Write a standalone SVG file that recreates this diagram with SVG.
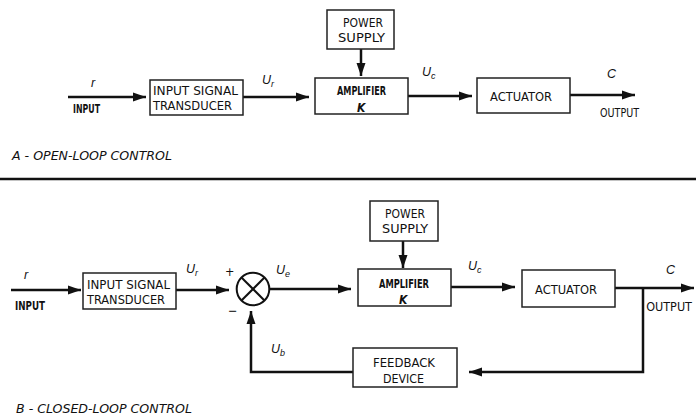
<svg xmlns="http://www.w3.org/2000/svg" width="696" height="417" viewBox="0 0 696 417">
<style>
.box{fill:#fff;stroke:#222;stroke-width:1.5}
.ln{fill:none;stroke:#111;stroke-width:2.5}
.t{font-family:"Liberation Sans Narrow","DejaVu Sans Condensed","Liberation Sans",sans-serif;font-size:12.5px;fill:#111}
.s{font-size:12px}
.it{font-family:"Liberation Sans","DejaVu Sans",sans-serif;font-style:italic;font-size:12.5px;fill:#111}
.cap{font-family:"Liberation Sans Narrow","DejaVu Sans Condensed","Liberation Sans",sans-serif;font-style:italic;font-size:12px;fill:#111}
</style>
<defs>
<marker id="ah" markerUnits="userSpaceOnUse" markerWidth="14" markerHeight="10" refX="13" refY="5" orient="auto">
<path d="M0,0.5 L13,5 L0,9.5 Z" fill="#111"/>
</marker>
</defs>
<rect width="696" height="417" fill="#fff"/>

<!-- Open loop -->
<g id="connectors-a">
<line class="ln" x1="68" y1="97" x2="146" y2="97" marker-end="url(#ah)"/>
<line class="ln" x1="243" y1="97" x2="309" y2="97" marker-end="url(#ah)"/>
<line class="ln" x1="361" y1="49" x2="361" y2="76" marker-end="url(#ah)"/>
<line class="ln" x1="408" y1="96" x2="472" y2="96" marker-end="url(#ah)"/>
<line class="ln" x1="570" y1="95" x2="635" y2="95" marker-end="url(#ah)"/>
</g>
<g id="a-ist">
<rect class="box" x="150" y="80" width="93" height="35"/>
<text class="t" x="153" y="95" textLength="85" lengthAdjust="spacingAndGlyphs">INPUT SIGNAL</text>
<text class="t" x="153" y="110" textLength="79" lengthAdjust="spacingAndGlyphs">TRANSDUCER</text>
</g>
<g id="a-power">
<rect class="box" x="327" y="10" width="67" height="39"/>
<text class="t" x="343" y="27" textLength="40" lengthAdjust="spacingAndGlyphs">POWER</text>
<text class="t" x="338" y="42" textLength="47" lengthAdjust="spacingAndGlyphs">SUPPLY</text>
</g>
<g id="a-amp">
<rect class="box" x="315" y="78" width="93" height="36"/>
<text class="t s" x="337" y="95" textLength="49" lengthAdjust="spacingAndGlyphs" font-weight="bold">AMPLIFIER</text>
<text class="t s" x="357" y="112" font-style="italic" font-weight="bold">K</text>
</g>
<g id="a-act">
<rect class="box" x="477" y="78" width="93" height="35"/>
<text class="t" x="490" y="101" textLength="62" lengthAdjust="spacingAndGlyphs">ACTUATOR</text>
</g>
<g id="a-labels">
<text class="it" x="91" y="87">r</text>
<text class="t s" x="73" y="113" textLength="27" lengthAdjust="spacingAndGlyphs" font-weight="bold">INPUT</text>
<text class="it" x="262" y="84">U<tspan font-size="9" dy="3">r</tspan></text>
<text class="it" x="422" y="76">U<tspan font-size="9" dy="3">c</tspan></text>
<text class="it" x="607" y="78" font-family="Liberation Serif">C</text>
<text class="t s" x="600" y="117" textLength="39" lengthAdjust="spacingAndGlyphs">OUTPUT</text>
<text class="cap" x="12" y="160" textLength="160" lengthAdjust="spacingAndGlyphs">A - OPEN-LOOP CONTROL</text>
</g>

<line x1="0" y1="179" x2="696" y2="179" stroke="#111" stroke-width="2.5"/>

<!-- Closed loop -->
<g id="connectors-b">
<line class="ln" x1="11" y1="290" x2="81" y2="290" marker-end="url(#ah)"/>
<line class="ln" x1="176" y1="290" x2="229" y2="290" marker-end="url(#ah)"/>
<line class="ln" x1="269" y1="289" x2="351" y2="289" marker-end="url(#ah)"/>
<line class="ln" x1="403" y1="241" x2="403" y2="268" marker-end="url(#ah)"/>
<line class="ln" x1="451" y1="287" x2="515" y2="287" marker-end="url(#ah)"/>
<line class="ln" x1="615" y1="288" x2="694" y2="288" marker-end="url(#ah)"/>
<polyline class="ln" points="643,288 643,372 469,372" marker-end="url(#ah)"/>
<polyline class="ln" points="353,372 251,372 251,311" marker-end="url(#ah)"/>
</g>
<g id="b-sum">
<circle cx="253" cy="289" r="16.3" fill="#fff" stroke="#111" stroke-width="2"/>
<line x1="241.5" y1="277.5" x2="264.5" y2="300.5" stroke="#111" stroke-width="2"/>
<line x1="264.5" y1="277.5" x2="241.5" y2="300.5" stroke="#111" stroke-width="2"/>
</g>
<g id="b-ist">
<rect class="box" x="83" y="273" width="93" height="36"/>
<text class="t" x="87" y="289" textLength="83" lengthAdjust="spacingAndGlyphs">INPUT SIGNAL</text>
<text class="t" x="87" y="304" textLength="78" lengthAdjust="spacingAndGlyphs">TRANSDUCER</text>
</g>
<g id="b-power">
<rect class="box" x="370" y="201" width="68" height="40"/>
<text class="t" x="385" y="218" textLength="40" lengthAdjust="spacingAndGlyphs">POWER</text>
<text class="t" x="382" y="233" textLength="46" lengthAdjust="spacingAndGlyphs">SUPPLY</text>
</g>
<g id="b-amp">
<rect class="box" x="358" y="269" width="93" height="37"/>
<text class="t s" x="379" y="288" textLength="50" lengthAdjust="spacingAndGlyphs" font-weight="bold">AMPLIFIER</text>
<text class="t s" x="399" y="304" font-style="italic" font-weight="bold">K</text>
</g>
<g id="b-act">
<rect class="box" x="522" y="270" width="93" height="37"/>
<text class="t" x="535" y="294" textLength="62" lengthAdjust="spacingAndGlyphs">ACTUATOR</text>
</g>
<g id="b-feedback">
<rect class="box" x="353" y="348" width="104" height="39"/>
<text class="t" x="373" y="367" textLength="62" lengthAdjust="spacingAndGlyphs">FEEDBACK</text>
<text class="t" x="383" y="383" textLength="41" lengthAdjust="spacingAndGlyphs">DEVICE</text>
</g>
<g id="b-labels">
<text class="it" x="24" y="279">r</text>
<text class="t s" x="15" y="310" textLength="30" lengthAdjust="spacingAndGlyphs" font-weight="bold">INPUT</text>
<text class="it" x="186" y="273">U<tspan font-size="9" dy="3">r</tspan></text>
<text class="t" x="225" y="276" font-size="14">+</text>
<text class="t" x="228" y="315" font-size="14">−</text>
<text class="it" x="276" y="274">U<tspan font-size="9" dy="3">e</tspan></text>
<text class="it" x="468" y="270">U<tspan font-size="9" dy="3">c</tspan></text>
<text class="it" x="666" y="274" font-family="Liberation Serif">C</text>
<text class="t" x="692" y="311" font-size="10.5" text-anchor="end">OUTPUT</text>
<text class="it" x="271" y="353">U<tspan font-size="9" dy="3">b</tspan></text>
<text class="cap" x="16" y="413" textLength="176" lengthAdjust="spacingAndGlyphs">B - CLOSED-LOOP CONTROL</text>
</g>
</svg>
